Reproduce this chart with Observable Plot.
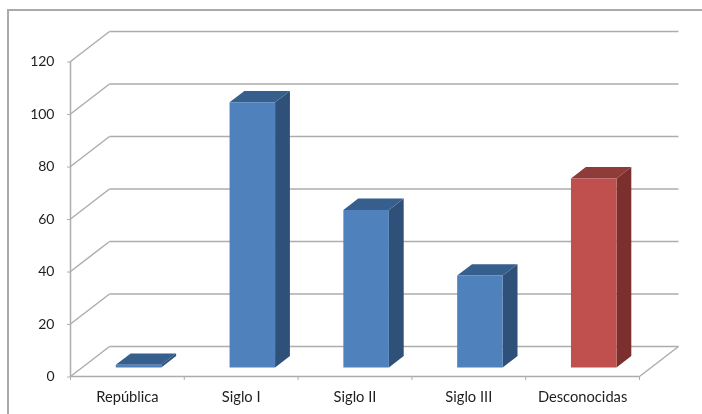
<!DOCTYPE html>
<html>
<head>
<meta charset="utf-8">
<script src="https://cdn.jsdelivr.net/npm/d3@7"></script>
<script src="https://cdn.jsdelivr.net/npm/@observablehq/plot@0.6"></script>
<style>
html,body{margin:0;padding:0;background:#fff;overflow:hidden}
#frame{position:absolute;left:7px;top:8.5px;right:0;bottom:0;border-left:2px solid #aaaaaa;border-top:2px solid #aaaaaa;pointer-events:none}
#chart{position:absolute;left:0;top:0}
svg{display:block;background:transparent !important;filter:blur(0.5px)}
</style>
</head>
<body>
<div id="frame"></div>
<div id="chart"></div>
<script>
const categories = ["República", "Siglo I", "Siglo II", "Siglo III", "Desconocidas"];
const values = [1, 101, 60, 35, 72];
const yTicks = [0, 20, 40, 60, 80, 100, 120];
const slotEdges = [0, 1, 2, 3, 4, 5];
const slotCentres = [0.5, 1.5, 2.5, 3.5, 4.5];
const frontColors = ["#4f81bd", "#4f81bd", "#4f81bd", "#4f81bd", "#c0504d"];
const sideColors = ["#2f5078", "#2f5078", "#2f5078", "#2f5078", "#7b302e"];
const topColors = ["#375f8e", "#375f8e", "#375f8e", "#375f8e", "#8f3b39"];

// oblique projection, expressed in data units
const depthX = 0.3427, depthY = 11.43;
const barWidth = 0.4, barNudge = -0.005, barNear = 0.3, barFar = 0.68;
const P = (cx, v, d) => ({x: cx + d * depthX, y: v + d * depthY});

const faces = [];
categories.forEach((c, i) => {
  const m = slotCentres[i] + barNudge;
  const l = m - barWidth / 2, r = m + barWidth / 2, v = values[i];
  const add = (name, color, pts) => pts.forEach(p => faces.push({id: c + name, color, ...p}));
  add("side", sideColors[i], [P(r, 0, barNear), P(r, 0, barFar), P(r, v, barFar), P(r, v, barNear)]);
  add("top", topColors[i], [P(l, v, barNear), P(r, v, barNear), P(r, v, barFar), P(l, v, barFar)]);
  add("front", frontColors[i], [P(l, 0, barNear), P(r, 0, barNear), P(r, v, barNear), P(l, v, barNear)]);
});

const gridColor = "#adadad";
const textColor = "#1f1f1f";
const chart = Plot.plot({
  width: 702, height: 414,
  marginLeft: 70, marginRight: 63, marginTop: 61, marginBottom: 38,
  x: {type: "linear", domain: [0, 5], axis: null},
  y: {type: "linear", domain: [0, 120], axis: null},
  color: {type: "identity"},
  style: {fontFamily: "Lato, sans-serif", fontSize: "13px", color: textColor, background: "transparent", overflow: "visible"},
  marks: [
    // wall diagonals and back lines
    Plot.link(yTicks, {x1: () => 0, y1: d => d, x2: () => depthX, y2: d => d + depthY, stroke: gridColor, strokeWidth: 1.5}),
    Plot.link(yTicks, {x1: () => depthX, y1: d => d + depthY, x2: () => 5 + depthX, y2: d => d + depthY, stroke: gridColor, strokeWidth: 1.5}),
    // floor right edge
    Plot.link([0], {x1: () => 5, y1: d => d, x2: () => 5 + depthX, y2: d => d + depthY, stroke: gridColor, strokeWidth: 1.5}),
    // bars
    Plot.line(faces, {x: "x", y: "y", z: "id", fill: "color", stroke: "none"}),
    // axes
    Plot.ruleX([0], {y1: 0, y2: 120, stroke: gridColor, strokeWidth: 1.5}),
    Plot.ruleY([0], {x1: 0, x2: 5, stroke: gridColor, strokeWidth: 1.5}),
    Plot.axisY({ticks: yTicks, tickSize: 3, tickPadding: 13, stroke: gridColor, fill: textColor, fontSize: 14, dy: 0.5, label: null}),
    Plot.axisX({ticks: slotEdges, tickSize: 4, tickFormat: () => "", stroke: gridColor, label: null}),
    Plot.axisX({ticks: slotCentres, tickSize: 0, tickPadding: 15, tickFormat: d => categories[slotCentres.indexOf(d)], fill: textColor, fontSize: 14.7, label: null})
  ]
});
document.getElementById("chart").append(chart);
</script>
</body>
</html>
